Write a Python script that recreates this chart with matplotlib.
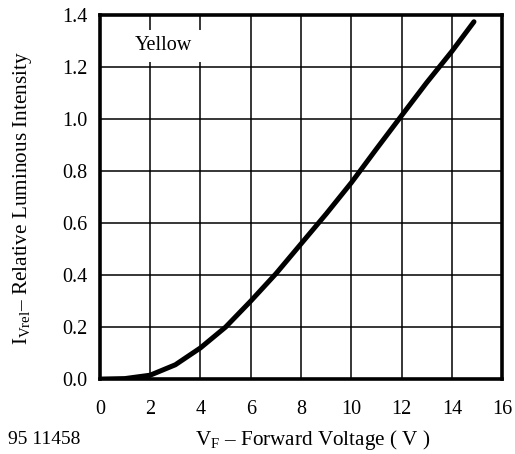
"""Relative luminous intensity vs forward voltage (Yellow)."""

import matplotlib

matplotlib.use("Agg")
import matplotlib.pyplot as plt
from matplotlib.patches import Rectangle

# curve
forward_voltage = [0, 1, 2, 3, 4, 5, 6, 7, 8, 9, 10, 11, 12, 13, 14, 14.88]
rel_intensity = [0.0, 0.002, 0.015, 0.055, 0.12, 0.2, 0.3, 0.405, 0.52,
                 0.635, 0.755, 0.885, 1.013, 1.14, 1.26, 1.374]

x_ticks = [0, 2, 4, 6, 8, 10, 12, 14, 16]
y_ticks = [0.0, 0.2, 0.4, 0.6, 0.8, 1.0, 1.2, 1.4]
y_tick_labels = [f"{v:.1f}" for v in y_ticks]

plt.rcParams["font.family"] = ["Liberation Serif", "DejaVu Serif"]
plt.rcParams["mathtext.fontset"] = "custom"
plt.rcParams["mathtext.rm"] = "Liberation Serif"

fig = plt.figure(figsize=(5.15, 4.54), dpi=100)
ax = fig.add_axes([0.194, 0.165, 0.781, 0.802])

ax.plot(forward_voltage, rel_intensity, color="black", lw=3.6,
        solid_capstyle="round", zorder=4)

ax.set_xlim(0, 16)
ax.set_ylim(0, 1.4)
ax.set_xticks(x_ticks)
ax.set_yticks(y_ticks)
ax.set_yticklabels(y_tick_labels)
ax.tick_params(axis="both", length=0, labelsize=14.5)
ax.tick_params(axis="x", pad=15)
ax.tick_params(axis="y", pad=9)
ax.grid(True, color="black", lw=1.1, zorder=1)
ax.set_axisbelow(True)
for spine in ax.spines.values():
    spine.set_linewidth(2.6)
    spine.set_zorder(6)

# white patch behind the label, cutting the grid
ax.add_patch(Rectangle((0.02, 0.87), 0.255, 0.09, transform=ax.transAxes,
                       facecolor="white", edgecolor="none", zorder=3))
ax.text(0.157, 0.915, "Yellow", transform=ax.transAxes, ha="center",
        va="center", fontsize=14.5, zorder=5)

fig.text(0.044, 0.563, r"$\mathrm{I_{Vrel}}$– Relative Luminous Intensity",
         rotation=90, ha="center", va="center", fontsize=15.3)
fig.text(0.607, 0.020, r"$\mathrm{V_F}$ – Forward Voltage ( V )",
         ha="center", va="baseline", fontsize=15.2)
fig.text(0.016, 0.022, "95 11458", ha="left", va="baseline", fontsize=14)

fig.savefig("out.png", dpi=100)
